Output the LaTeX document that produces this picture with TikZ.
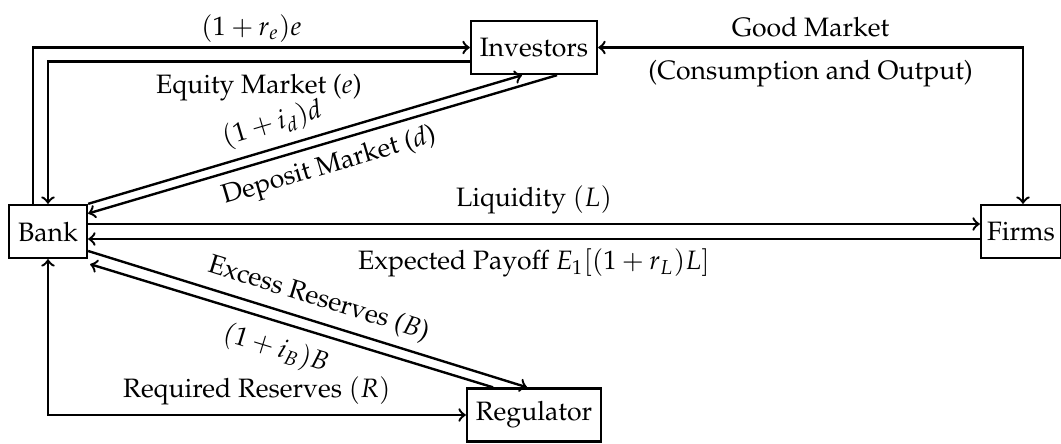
\documentclass[tikz,border=0pt]{standalone}
\usepackage[T1]{fontenc}
\usepackage{mathpazo}
\usetikzlibrary{calc}
\tikzset{
  box/.style={draw, line width=0.9pt, minimum height=0.7cm, inner sep=0pt},
  flow/.style={line width=0.9pt},
}
\begin{document}
\begin{tikzpicture}[x=0.376pt,y=-0.376pt]
\useasboundingbox (0,0) rectangle (1061,443);
\node[box, minimum width=29.3pt] (bank) at (48,231.5) {Bank};
\node[box, minimum width=47.4pt] (investors) at (534,47.5) {Investors};
\node[box, minimum width=30.1pt] (firms) at (1021,231.5) {Firms};
\node[box, minimum width=50.4pt] (regulator) at (534,415) {Regulator};

% equity market
\draw[flow,->] ($(bank.north)+(-15,0)$) |- node[above, pos=0.75, yshift=-1.8pt] {$(1+r_e)e$} (investors.west);
\draw[flow,->] ($(investors.west)+(0,14)$) -| node[below, pos=0.25, yshift=-1.2pt] {Equity Market ($e$)} (bank.north);

% deposit market
\draw[flow,->] (bank.north east) -- node[above, sloped, pos=0.44] {$(1+i_d)d$} ($(investors.south)+(-12,0)$);
\draw[flow,<-] ($(bank.east)+(0,-18)$) -- node[below, sloped, pos=0.5] {Deposit Market ($d$)} ($(investors.south)+(23,0)$);

% liquidity
\draw[flow,->] ($(bank.east)+(0,-7.5)$) -- node[above] {Liquidity $(L)$} ($(firms.west)+(0,-7.5)$);
\draw[flow,<-] ($(bank.east)+(0,7.5)$) -- node[below] {Expected Payoff $E_1[(1+r_L)L]$} ($(firms.west)+(0,7.5)$);

% reserves
\draw[flow,->] ($(bank.east)+(0,19.5)$) -- node[above, sloped, pos=0.51] {Excess Reserves ($B$)} ($(regulator.north)+(-7,0)$);
\draw[flow,<-] ($(bank.south east)+(2,5)$) -- node[below, sloped, pos=0.48, inner sep=4.5pt] {$(1+i_B)B$} ($(regulator.north)+(-41,0)$);
\draw[flow,<->] (bank.south) |- node[above, pos=0.75] {Required Reserves $(R)$} (regulator.west);

% good market
\draw[flow,<->] (investors.east) -| node[above, pos=0.25] {Good Market} node[below, pos=0.25, yshift=-1pt] {(Consumption and Output)} ($(firms.north)+(2,0)$);
\end{tikzpicture}
\end{document}
